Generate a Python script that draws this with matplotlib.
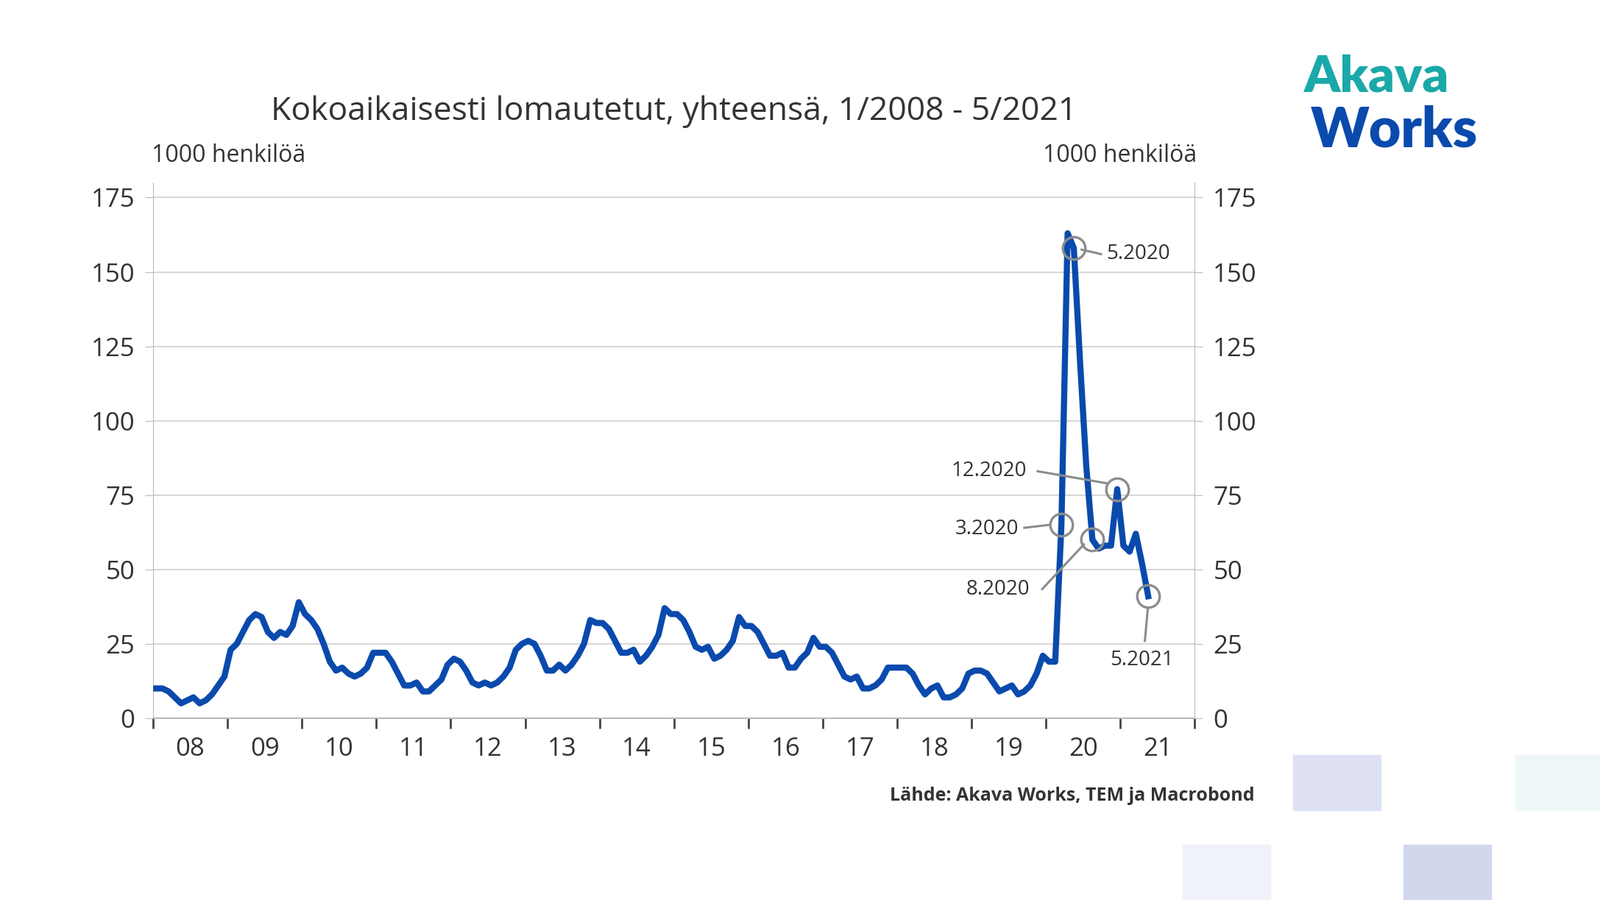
import matplotlib
matplotlib.use("Agg")
import matplotlib.pyplot as plt
from matplotlib.patches import Rectangle
import numpy as np

plt.rcParams["font.family"] = "Open Sans"

start_year = 2008
values = [
    10, 10, 9, 7, 5, 6, 7, 5, 6, 8, 11, 14,        # 2008
    23, 25, 29, 33, 35, 34, 29, 27, 29, 28, 31, 39, # 2009
    35, 33, 30, 25, 19, 16, 17, 15, 14, 15, 17, 22, # 2010
    22, 22, 19, 15, 11, 11, 12, 9, 9, 11, 13, 18,   # 2011
    20, 19, 16, 12, 11, 12, 11, 12, 14, 17, 23, 25, # 2012
    26, 25, 21, 16, 16, 18, 16, 18, 21, 25, 33, 32, # 2013
    32, 30, 26, 22, 22, 23, 19, 21, 24, 28, 37, 35, # 2014
    35, 33, 29, 24, 23, 24, 20, 21, 23, 26, 34, 31, # 2015
    31, 29, 25, 21, 21, 22, 17, 17, 20, 22, 27, 24, # 2016
    24, 22, 18, 14, 13, 14, 10, 10, 11, 13, 17, 17, # 2017
    17, 17, 15, 11, 8, 10, 11, 7, 7, 8, 10, 15,     # 2018
    16, 16, 15, 12, 9, 10, 11, 8, 9, 11, 15, 21,    # 2019
    19, 19, 65, 163, 158, 120, 85, 60, 57, 58, 58, 77, # 2020
    58, 56, 62, 52, 41,                              # 2021
]
year_labels = ["08", "09", "10", "11", "12", "13", "14", "15", "16", "17", "18", "19", "20", "21"]
ann_labels = ["3.2020", "5.2020", "8.2020", "12.2020", "5.2021"]
ann_index = [146, 148, 151, 155, 160]

x = start_year + (np.arange(len(values)) + 0.5) / 12

fig = plt.figure(figsize=(21.74, 12.23), dpi=100)
ax = fig.add_axes([0.0957, 0.202, 0.651, 0.595])
ax.plot(x, values, color="#0a4aad", lw=6, solid_joinstyle="round", zorder=3)
ax.set_xlim(2008, 2022)
ax.set_ylim(0, 180)
ax.set_yticks(range(0, 176, 25))
ax.grid(axis="y", color="#d0d0d0", lw=1.2)
ax.set_axisbelow(True)
ax.spines["top"].set_visible(False)
for s in ["left", "right", "bottom"]:
    ax.spines[s].set_color("#bbbbbb")
ax.spines["bottom"].set_linewidth(1.5)
ax.set_xticks(range(2008, 2023))
ax.set_xticklabels([])
ax.tick_params(axis="x", length=10, width=2, color="#444444", direction="out")
ax.set_xticks([y + 0.5 for y in range(2008, 2022)], minor=True)
ax.set_xticklabels(year_labels, minor=True)
ax.tick_params(axis="x", which="minor", length=0, labelsize=25, colors="#333333", pad=18)
ax.tick_params(axis="y", length=8, color="#bbbbbb", labelsize=25, labelcolor="#333333",
               right=True, labelright=True, pad=10)

ann_text = {"3.2020": (2019.64, 63.6, "right"), "5.2020": (2020.81, 156, "left"),
            "8.2020": (2019.78, 43.4, "right"), "12.2020": (2019.74, 83, "right"),
            "5.2021": (2021.29, 19.5, "center")}
ann_line = {"3.2020": ((2019.71, 64), (2020.05, 65)), "5.2020": ((2020.48, 157.5), (2020.74, 156)),
            "8.2020": ((2019.95, 43.4), (2020.51, 58.4)), "12.2020": ((2019.89, 83), (2020.81, 79)),
            "5.2021": ((2021.37, 37), (2021.33, 26))}
for lab, i in zip(ann_labels, ann_index):
    px, py = x[i], values[i]
    if lab == "5.2020":
        py = 158
    ax.plot(px, py, "o", ms=22, mfc="none", mec="#8c8c8c", mew=2.4, zorder=4)
    (x0, y0), (x1, y1) = ann_line[lab]
    ax.plot([x0, x1], [y0, y1], color="#8c8c8c", lw=2.2, zorder=4)
    tx, ty, ha = ann_text[lab]
    ax.text(tx, ty, lab, ha=ha, va="center", fontsize=20, color="#333333")

fig.text(0.421, 0.876, "Kokoaikaisesti lomautetut, yhteensä, 1/2008 - 5/2021", ha="center", va="center",
         fontsize=32, color="#333333")
fig.text(0.0947, 0.827, "1000 henkilöä", ha="left", va="center", fontsize=23, color="#333333")
fig.text(0.748, 0.827, "1000 henkilöä", ha="right", va="center", fontsize=23, color="#333333")
fig.text(0.784, 0.116, "Lähde: Akava Works, TEM ja Macrobond", ha="right", va="center", fontsize=18,
         color="#333333", fontweight="bold")

fig.text(0.815, 0.914, "Akava", ha="left", va="center", fontsize=50, color="#1aa8a8", fontweight="black",
         family="Lato")
fig.text(0.819, 0.855, "Works", ha="left", va="center", fontsize=54, color="#0a4aad", fontweight="black",
         family="Lato")

for (rx, ry, c) in [(0.808, 0.100, "#dde1f2"), (0.947, 0.100, "#eef6f8"), (0.739, 0.0, "#f0f2fa"),
                    (0.877, 0.0, "#d2d7ee")]:
    fig.patches.append(Rectangle((rx, ry), 0.055, 0.061, transform=fig.transFigure, color=c, zorder=0))

fig.savefig("out.png", dpi=100)
